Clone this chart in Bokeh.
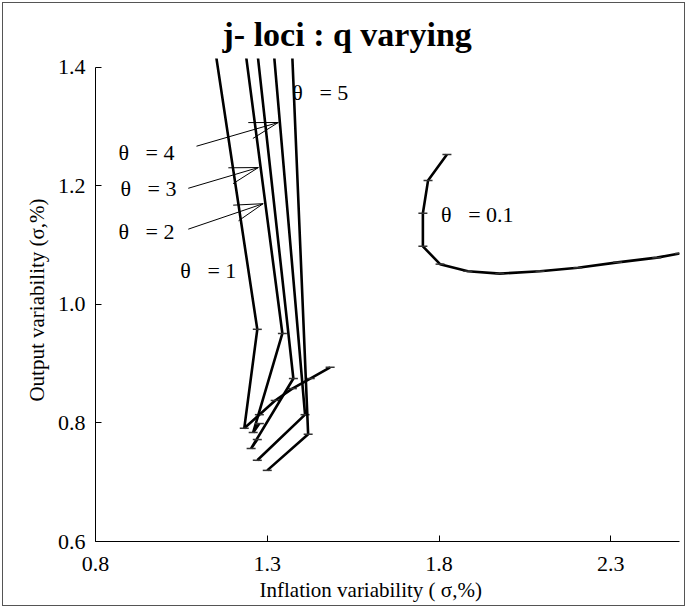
import math

from bokeh.core.properties import value
from bokeh.embed import file_html
from bokeh.models import FixedTicker, PrintfTickFormatter, Range1d, Title
from bokeh.plotting import figure
from bokeh.resources import INLINE

FONT = "Liberation Serif"

# phi-loci: (inflation variability, output variability) for each theta
theta_01_x = [1.823, 1.768, 1.753, 1.753, 1.803, 1.884, 1.977, 2.094, 2.204, 2.320, 2.434, 2.500]
theta_01_y = [1.253, 1.209, 1.154, 1.098, 1.068, 1.056, 1.052, 1.056, 1.062, 1.071, 1.079, 1.086]

theta_1_x = [1.130, 1.271, 1.233, 1.277, 1.323, 1.373, 1.425, 1.483]
theta_1_y = [1.500, 0.958, 0.791, 0.814, 0.838, 0.858, 0.875, 0.894]

theta_2_x = [1.220, 1.344, 1.259, 1.277]
theta_2_y = [1.500, 0.951, 0.784, 0.799]

theta_3_x = [1.257, 1.376, 1.253, 1.271]
theta_3_y = [1.500, 0.875, 0.757, 0.772]

theta_4_x = [1.308, 1.410, 1.271]
theta_4_y = [1.500, 0.814, 0.737]

theta_5_x = [1.367, 1.419, 1.300]
theta_5_y = [1.500, 0.781, 0.720]

# curve labels (non-breaking spaces keep the wide gap after theta)
GAP = "\u00a0\u00a0\u00a0"
label_text = [f"θ{GAP}= 4", f"θ{GAP}= 3", f"θ{GAP}= 2", f"θ{GAP}= 1", f"θ{GAP}= 5", f"θ{GAP}= 0.1"]
label_x = [0.867, 0.873, 0.867, 1.047, 1.373, 1.806]
label_y = [1.257, 1.196, 1.123, 1.057, 1.358, 1.152]

# pointer arrows from the labels to the curves
arrow_tail_x = [1.094, 1.070, 1.070]
arrow_tail_y = [1.267, 1.196, 1.127]
arrow_head_x = [1.332, 1.274, 1.288]
arrow_head_y = [1.307, 1.231, 1.170]

x_ticks = [0.8, 1.3, 1.8, 2.3]
y_ticks = [0.6, 0.8, 1.0, 1.2, 1.4]

X_START, X_END = 0.8, 2.5
Y_START, Y_END = 0.6, 1.415

W, H = 683, 604
LEFT, RIGHT, TOP, BOTTOM = 92, 7, 55, 66

p = figure(
    width=W, height=H,
    x_range=Range1d(X_START, X_END), y_range=Range1d(Y_START, Y_END),
    output_backend="svg", toolbar_location=None,
    min_border_left=LEFT, min_border_right=RIGHT,
    min_border_top=TOP, min_border_bottom=BOTTOM,
)
p.styles = {"margin": "2px", "border": "1px solid #555"}
p.background_fill_color = "white"
p.border_fill_color = "white"
p.outline_line_color = None
p.xgrid.visible = False
p.ygrid.visible = False

p.title.text = "j- loci : q varying"
p.title.text_font = FONT
p.title.text_font_size = "34px"
p.title.text_font_style = "bold"
p.title.text_color = "black"
p.title.align = "left"
p.title.offset = 127
p.title.standoff = 12

for ax in (p.xaxis, p.yaxis):
    ax.major_label_text_font = FONT
    ax.major_label_text_font_size = "22px"
    ax.major_label_text_color = "black"
    ax.axis_line_color = "black"
    ax.major_tick_line_color = "black"
    ax.minor_tick_line_color = None
    ax.major_tick_in = 6
    ax.major_tick_out = 0
    ax.formatter = PrintfTickFormatter(format="%.1f")
    ax.axis_label_text_font = FONT
    ax.axis_label_text_font_style = "normal"
    ax.axis_label_text_color = "black"
    ax.axis_label_text_font_size = "21px"

p.xaxis.ticker = FixedTicker(ticks=x_ticks)
p.yaxis.ticker = FixedTicker(ticks=y_ticks)
p.yaxis.bounds = (0.6, 1.4)
p.xaxis.major_label_standoff = 15
p.yaxis.major_label_standoff = 10
p.yaxis.axis_label = "Output variability (σ,%)"
p.yaxis.axis_label_standoff = 6

xlabel = Title(text="Inflation variability ( σ,%)", align="left", offset=164,
               text_font=FONT, text_font_size="21px", text_font_style="normal",
               text_color="black", standoff=4)
p.add_layout(xlabel, "below")

curves = [
    (theta_01_x, theta_01_y),
    (theta_1_x, theta_1_y),
    (theta_2_x, theta_2_y),
    (theta_3_x, theta_3_y),
    (theta_4_x, theta_4_y),
    (theta_5_x, theta_5_y),
]
for cx, cy in curves:
    p.line(cx, cy, line_color="black", line_width=2.6)
    p.scatter(cx, cy, marker="dash", size=9, line_color="#333333", line_width=1.5)

p.text(x=label_x, y=label_y, text=label_text, text_font=value(FONT),
       text_font_size="22px", text_color="black",
       text_align="left", text_baseline="middle")

# arrows: shaft plus two open barbs, built in pixel space
sx = (W - LEFT - RIGHT) / (X_END - X_START)
sy = (H - TOP - BOTTOM) / (Y_END - Y_START)
BARB_LEN = 30.0
BARB_ANGLE = math.radians(16)
x0, y0, x1, y1 = [], [], [], []
for tx, ty, hx, hy in zip(arrow_tail_x, arrow_tail_y, arrow_head_x, arrow_head_y):
    x0.append(tx); y0.append(ty); x1.append(hx); y1.append(hy)
    vx, vy = (tx - hx) * sx, (ty - hy) * sy
    n = math.hypot(vx, vy)
    ux, uy = vx / n, vy / n
    for a in (BARB_ANGLE, -BARB_ANGLE):
        rx = ux * math.cos(a) - uy * math.sin(a)
        ry = ux * math.sin(a) + uy * math.cos(a)
        x0.append(hx); y0.append(hy)
        x1.append(hx + rx * BARB_LEN / sx)
        y1.append(hy + ry * BARB_LEN / sy)
p.segment(x0, y0, x1, y1, line_color="black", line_width=1)

open("out.html", "w").write(file_html(p, INLINE))
